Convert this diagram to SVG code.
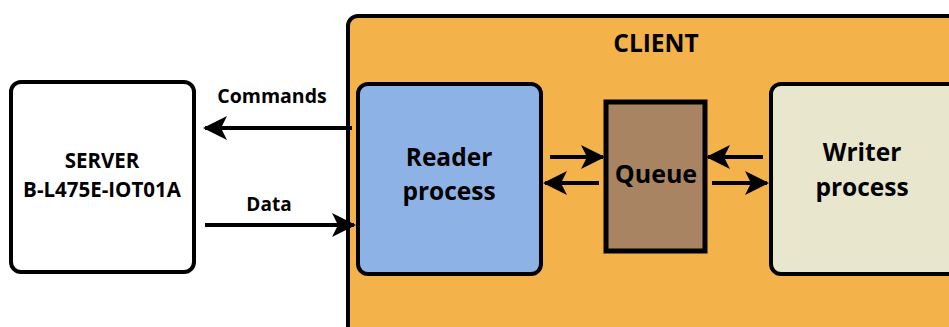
<svg xmlns="http://www.w3.org/2000/svg" width="949" height="327" viewBox="0 0 949 327">
  <defs>
    <style>
      .lbl { font-family: "Open Sans", "Liberation Sans", sans-serif; font-weight: bold; fill: #000; text-anchor: middle; }
      .box { stroke: #000; stroke-width: 4; }
      .link { stroke: #000; stroke-width: 4; fill: none; }
    </style>
    <marker id="head" viewBox="0 0 24 24" refX="22" refY="12" markerWidth="24" markerHeight="24" markerUnits="userSpaceOnUse" orient="auto">
      <path d="M0,0 L24,12 L0,24 L6,12 Z" fill="#000"/>
    </marker>
  </defs>

  <rect width="949" height="327" fill="#fff"/>

  <g id="client">
    <rect class="box" x="348" y="16" width="640" height="340" rx="10" fill="#F3B24A"/>
    <text class="lbl" x="656" y="52" font-size="24.5">CLIENT</text>
  </g>

  <g id="server">
    <rect class="box" x="11" y="82" width="183" height="190" rx="10" fill="#fff"/>
    <text class="lbl" x="102" y="168" font-size="20.5">SERVER</text>
    <text class="lbl" x="102" y="197" font-size="20.5">B-L475E-IOT01A</text>
  </g>

  <g id="reader">
    <rect class="box" x="358" y="84" width="183" height="190" rx="10" fill="#8DB3E6"/>
    <text class="lbl" x="449" y="166" font-size="24.5">Reader</text>
    <text class="lbl" x="449" y="200" font-size="24.5">process</text>
  </g>

  <g id="queue">
    <rect x="606" y="102" width="99" height="149" fill="#A98462" stroke="#000" stroke-width="5"/>
    <text class="lbl" x="656" y="183" font-size="25">Queue</text>
  </g>

  <g id="writer">
    <rect class="box" x="771" y="84" width="220" height="190" rx="10" fill="#E8E6CD"/>
    <text class="lbl" x="862" y="161" font-size="24.5">Writer</text>
    <text class="lbl" x="862" y="196" font-size="24.5">process</text>
  </g>

  <g id="connectors">
    <line class="link" x1="352" y1="128" x2="205" y2="128" marker-end="url(#head)"/>
    <text class="lbl" x="272" y="103" font-size="19.5">Commands</text>
    <line class="link" x1="205" y1="225" x2="354" y2="225" marker-end="url(#head)"/>
    <text class="lbl" x="269" y="211" font-size="19">Data</text>

    <line class="link" x1="550" y1="157" x2="603" y2="157" marker-end="url(#head)"/>
    <line class="link" x1="599" y1="183" x2="545" y2="183" marker-end="url(#head)"/>
    <line class="link" x1="763" y1="157" x2="708" y2="157" marker-end="url(#head)"/>
    <line class="link" x1="712" y1="183" x2="767" y2="183" marker-end="url(#head)"/>
  </g>
</svg>
